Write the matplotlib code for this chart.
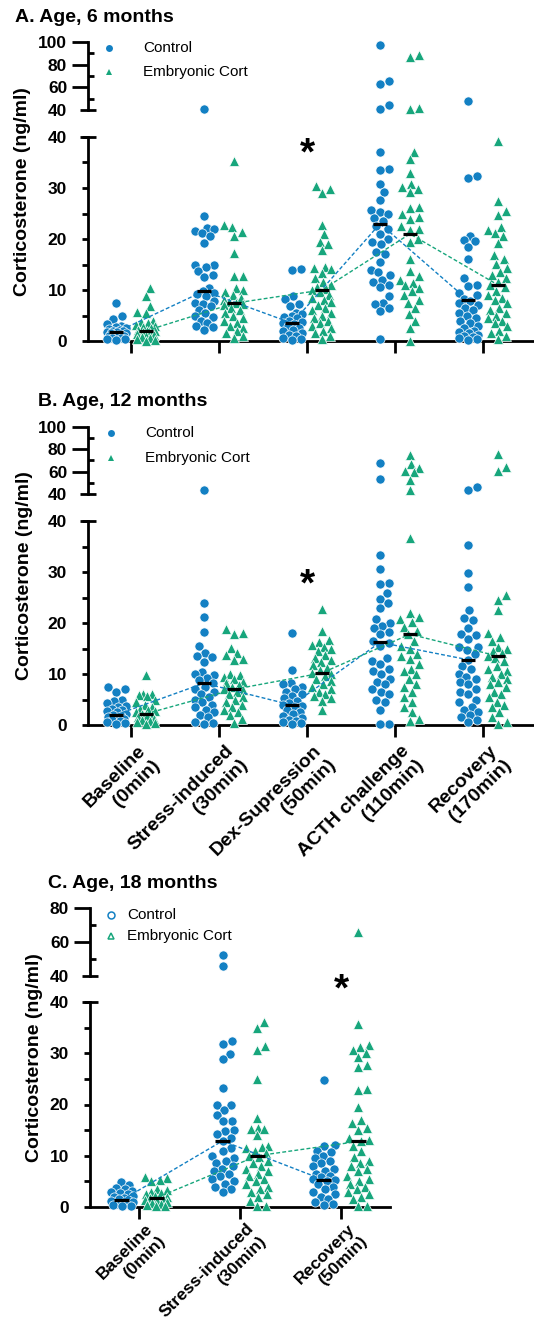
import numpy as np
import matplotlib
matplotlib.use('Agg')
import matplotlib.pyplot as plt
from matplotlib.lines import Line2D
from matplotlib.transforms import ScaledTranslation

plt.rcParams['font.family'] = ['Liberation Sans', 'DejaVu Sans']
plt.rcParams['font.weight'] = 'bold'

W, H, DPI = 534, 1332, 100
BLUE = '#1380C3'
GREEN = '#17A67C'

# ---------------- data ----------------
cats_5 = ['Baseline\n(0min)', 'Stress-induced\n(30min)', 'Dex-Supression\n(50min)',
          'ACTH challenge\n(110min)', 'Recovery\n(170min)']
cats_3 = ['Baseline\n(0min)', 'Stress-induced\n(30min)', 'Recovery\n(50min)']
series_names = ['Control', 'Embryonic Cort']

# Panel A: 6 months
ctrl_A = [
    [7.4, 4.9, 4.3, 3.3, 3.0, 2.8, 2.5, 2.3, 2.1, 2.0, 1.9, 1.8, 1.7, 1.6, 1.5, 1.4, 1.2, 1.0, 0.9, 0.8, 0.6, 0.5, 0.4, 0.3, 0.2],
    [41.0, 24.6, 22.2, 22.0, 21.6, 21.2, 20.5, 19.2, 15.0, 14.9, 14.5, 13.8, 12.9, 12.6, 10.3, 9.8, 9.5, 9.2, 8.8, 7.8, 7.5, 7.2, 6.8, 6.0, 5.5, 5.0, 4.8, 4.0, 3.5, 3.0, 2.8, 2.2],
    [14.2, 13.9, 8.8, 8.2, 7.2, 6.8, 5.5, 5.2, 5.0, 4.8, 4.5, 4.0, 3.8, 3.5, 3.4, 3.0, 2.6, 2.2, 2.0, 1.6, 1.2, 1.0, 0.6, 0.4, 0.2],
    [97.5, 65.3, 62.7, 44.1, 41.0, 37.0, 33.7, 33.6, 30.8, 29.2, 27.6, 25.7, 25.3, 25.0, 24.2, 23.5, 22.5, 22.0, 21.0, 20.0, 19.5, 19.0, 17.5, 17.0, 15.5, 14.0, 13.5, 13.0, 12.0, 11.5, 11.0, 10.5, 8.8, 7.5, 7.2, 6.5, 5.8, 0.3],
    [48.2, 32.3, 32.0, 20.6, 19.9, 19.6, 18.4, 16.0, 12.3, 11.0, 10.8, 9.5, 9.0, 8.2, 7.8, 7.5, 7.0, 6.5, 6.0, 5.5, 5.0, 4.5, 4.0, 3.5, 3.0, 2.5, 2.0, 1.8, 1.5, 1.2, 1.0, 0.8, 0.5, 0.3, 0.2],
]
cort_A = [
    [10.4, 8.9, 6.9, 5.6, 5.4, 4.0, 3.8, 3.5, 3.2, 3.0, 2.8, 2.5, 2.2, 2.0, 2.0, 1.8, 1.5, 1.3, 1.1, 1.0, 0.8, 0.5, 0.3, 0.2, 0.0],
    [35.3, 22.8, 22.3, 21.4, 20.6, 17.2, 12.8, 12.7, 10.3, 10.0, 9.6, 9.0, 8.5, 8.0, 7.6, 7.4, 7.2, 7.0, 6.5, 6.0, 5.5, 5.0, 4.5, 4.0, 3.5, 3.0, 2.5, 2.0, 1.5, 1.0, 0.6],
    [30.3, 29.8, 29.0, 22.7, 21.0, 19.5, 19.0, 17.8, 14.5, 14.3, 14.1, 13.4, 12.4, 11.5, 11.0, 10.5, 10.2, 10.0, 9.6, 9.0, 8.4, 8.0, 7.6, 7.0, 6.5, 6.0, 5.5, 5.0, 4.5, 4.0, 3.5, 3.0, 2.5, 2.0, 1.5, 1.0, 0.3],
    [88.3, 86.5, 42.0, 40.8, 37.1, 35.6, 32.9, 30.8, 30.2, 29.8, 29.2, 26.3, 26.0, 25.0, 24.4, 24.0, 22.5, 22.0, 21.8, 20.0, 19.5, 16.1, 13.8, 12.8, 12.0, 11.4, 11.0, 10.3, 9.8, 9.0, 8.0, 7.5, 6.4, 5.2, 4.0, 2.6, 0.0],
    [39.3, 27.4, 25.5, 24.7, 22.4, 21.7, 21.2, 20.6, 19.2, 16.8, 16.1, 15.1, 14.3, 13.5, 12.9, 12.4, 11.5, 11.0, 10.5, 9.8, 9.0, 8.5, 8.0, 7.5, 6.5, 6.0, 5.5, 5.0, 4.5, 4.0, 3.5, 3.0, 2.0, 1.5, 1.0, 0.3],
]
med_ctrl_A = [1.7, 9.8, 3.5, 23.0, 8.0]
med_cort_A = [2.0, 7.4, 10.0, 21.0, 11.0]

# Panel B: 12 months
ctrl_B = [
    [7.4, 7.0, 6.5, 5.0, 4.8, 4.4, 3.8, 3.5, 3.2, 3.0, 2.8, 2.5, 2.2, 2.0, 1.8, 1.6, 1.4, 1.2, 1.0, 0.8, 0.6, 0.4, 0.2],
    [43.5, 24.0, 21.2, 18.3, 15.5, 14.2, 13.5, 13.3, 12.4, 10.3, 10.0, 9.8, 9.3, 8.8, 8.2, 7.5, 7.0, 6.5, 6.0, 5.5, 5.0, 4.5, 4.0, 3.5, 3.0, 2.5, 2.0, 1.5, 0.5, 0.3, 0.2],
    [18.0, 10.8, 8.2, 8.0, 7.4, 7.0, 6.5, 6.0, 5.6, 5.2, 4.8, 4.4, 4.0, 3.8, 3.5, 3.0, 2.6, 2.2, 1.8, 1.4, 1.0, 0.8, 0.5, 0.3, 0.1],
    [67.5, 53.5, 33.3, 30.5, 27.9, 27.7, 25.8, 24.8, 23.9, 22.9, 20.8, 20.0, 19.5, 19.0, 18.2, 17.8, 16.5, 16.1, 15.5, 13.1, 12.5, 12.0, 11.0, 10.5, 10.0, 9.0, 8.5, 8.0, 7.0, 6.5, 6.0, 5.0, 4.5, 3.0, 0.2, 0.1],
    [46.5, 43.6, 35.2, 29.9, 27.0, 22.5, 21.0, 20.5, 19.0, 17.8, 17.7, 16.8, 15.3, 15.2, 14.8, 14.0, 12.8, 11.5, 11.0, 10.0, 9.5, 9.0, 8.5, 8.0, 7.0, 6.5, 6.0, 5.0, 4.5, 3.5, 3.0, 2.5, 2.0, 1.5, 1.0, 0.5],
]
cort_B = [
    [9.9, 6.1, 6.0, 5.9, 5.7, 5.0, 4.5, 4.0, 3.6, 3.2, 3.0, 2.8, 2.5, 2.2, 2.0, 1.8, 1.5, 1.2, 1.0, 0.8, 0.5, 0.3, 0.1],
    [18.8, 18.0, 17.8, 15.1, 14.2, 13.8, 13.0, 12.8, 10.0, 9.9, 9.5, 9.0, 8.5, 8.2, 7.8, 7.5, 7.0, 6.8, 6.5, 6.0, 5.5, 5.0, 4.5, 4.0, 3.5, 3.0, 2.5, 2.0, 1.2, 0.4],
    [22.7, 18.5, 16.7, 16.2, 15.6, 15.2, 15.0, 14.5, 13.8, 13.2, 12.8, 12.4, 11.8, 11.2, 10.8, 10.2, 10.0, 9.6, 9.0, 8.6, 8.0, 7.5, 7.0, 6.5, 6.0, 5.6, 5.2, 4.8, 2.9],
    [75.0, 66.5, 63.0, 61.0, 59.5, 52.5, 43.5, 36.6, 21.9, 21.2, 20.7, 20.2, 19.3, 18.5, 17.8, 16.5, 15.5, 15.0, 14.0, 13.5, 13.0, 12.0, 11.0, 10.5, 10.0, 9.0, 8.0, 7.5, 6.5, 5.5, 4.5, 3.5, 2.5, 1.2, 0.8],
    [75.8, 63.9, 60.9, 25.4, 24.5, 22.5, 18.0, 17.3, 16.5, 15.2, 15.0, 14.5, 14.2, 13.5, 13.2, 12.5, 11.5, 11.0, 10.5, 10.0, 9.5, 9.0, 8.5, 8.0, 7.5, 6.5, 6.0, 5.5, 4.5, 4.0, 3.5, 2.5, 1.5, 0.5, 0.2],
]
med_ctrl_B = [2.0, 8.2, 3.9, 16.2, 12.8]
med_cort_B = [2.2, 7.0, 10.2, 17.8, 13.5]

# Panel C: 18 months
ctrl_C = [
    [4.9, 4.2, 3.8, 3.5, 3.2, 3.0, 2.8, 2.5, 2.2, 2.0, 1.8, 1.5, 1.3, 1.2, 1.0, 0.8, 0.6, 0.5, 0.3, 0.2, 0.1],
    [52.4, 45.7, 32.3, 31.9, 29.8, 28.9, 23.3, 20.0, 19.9, 18.9, 18.0, 16.8, 16.7, 15.0, 14.8, 14.2, 13.5, 12.9, 11.5, 11.0, 10.0, 9.5, 9.0, 8.5, 8.0, 7.5, 7.0, 6.5, 6.0, 5.5, 5.0, 4.5, 4.0, 3.5, 3.0],
    [24.8, 12.1, 12.0, 11.0, 10.8, 10.0, 9.5, 9.0, 8.5, 8.0, 7.5, 7.0, 6.5, 6.0, 5.8, 5.5, 5.3, 5.0, 4.5, 4.0, 3.5, 3.0, 2.5, 2.0, 1.5, 1.0, 0.5, 0.3],
]
cort_C = [
    [5.9, 5.6, 5.3, 5.0, 3.6, 3.4, 3.0, 2.8, 2.5, 2.2, 2.0, 1.8, 1.6, 1.4, 1.2, 1.0, 0.8, 0.6, 0.4, 0.2, 0.1],
    [36.1, 34.9, 31.5, 30.6, 25.0, 17.3, 15.5, 15.3, 15.2, 14.0, 12.0, 11.8, 11.5, 11.0, 10.5, 10.0, 9.8, 9.0, 8.5, 8.0, 7.5, 7.0, 6.5, 6.0, 5.5, 5.0, 4.5, 4.0, 3.5, 3.0, 2.5, 2.0, 1.2, 0.2, 0.1],
    [65.7, 35.7, 31.7, 31.3, 30.6, 30.1, 29.2, 27.8, 27.3, 23.1, 22.8, 19.6, 16.9, 16.3, 15.5, 15.0, 13.5, 13.0, 12.8, 12.0, 11.0, 9.8, 9.0, 8.5, 8.0, 7.5, 7.0, 6.0, 5.5, 5.0, 4.5, 4.0, 3.5, 3.0, 2.5, 2.0, 1.5, 0.2, 0.1],
]
med_ctrl_C = [1.3, 12.9, 5.3]
med_cort_C = [1.8, 10.0, 12.8]

# ---------------- helpers ----------------
fig = plt.figure(figsize=(W / DPI, H / DPI), dpi=DPI)


def px_axes(l, t, r, b):
    return fig.add_axes([l / W, 1 - b / H, (r - l) / W, (b - t) / H])


def fy(y):
    return 1 - y / H


def swarm(ys, diam, maxw):
    order = np.argsort(ys)
    steps = np.arange(0.5, maxw + 0.01, 0.5)
    cands = [0.0]
    for s in steps:
        cands += [s, -s]
    placed = []
    offs = np.zeros(len(ys))
    for i in order:
        y = ys[i]
        best, best_d, chosen = 0.0, -1.0, None
        for c in cands:
            if not placed:
                chosen = c
                break
            arr = np.array(placed)
            d = np.min(np.hypot(arr[:, 0] - c, arr[:, 1] - y))
            if d >= diam:
                chosen = c
                break
            if d > best_d:
                best_d, best = d, c
        if chosen is None:
            chosen = best
        placed.append((chosen, y))
        offs[i] = chosen
    return offs


def draw_group(ax_lo, ax_hi, xc, values, color, marker, ms, split, maxw):
    vals = np.asarray(values, float)
    hi = vals > split
    disp = np.zeros((len(vals), 2))
    if (~hi).any():
        disp[~hi] = ax_lo.transData.transform(np.column_stack([np.full((~hi).sum(), xc), vals[~hi]]))
    if hi.any():
        disp[hi] = ax_hi.transData.transform(np.column_stack([np.full(hi.sum(), xc), vals[hi]]))
    offs = swarm(disp[:, 1], 8.8, maxw)
    ppu = ax_lo.transData.transform([[1, 0]])[0, 0] - ax_lo.transData.transform([[0, 0]])[0, 0]
    xs = xc + offs / ppu
    for ax, m in ((ax_lo, ~hi), (ax_hi, hi)):
        if m.any():
            ax.plot(xs[m], vals[m], ls='none', marker=marker, ms=ms, mfc=color, mec='white',
                    mew=0.5, clip_on=False, zorder=3)


def style_axes(ax_lo, ax_hi, upper_max, xlim, n, labels, xl_size, xl_pad):
    lw = 2.0
    for ax in (ax_lo, ax_hi):
        ax.set_xlim(*xlim)
        ax.patch.set_alpha(0)
        for s in ('top', 'right'):
            ax.spines[s].set_visible(False)
        ax.spines['left'].set_linewidth(lw)
    ax_hi.spines['bottom'].set_visible(False)
    ax_lo.spines['bottom'].set_linewidth(lw)
    ax_hi.set_xticks([])

    ax_lo.set_ylim(0, 40)
    ax_lo.set_yticks([0, 10, 20, 30, 40])
    ax_lo.set_yticks([5, 15, 25, 35], minor=True)
    ax_lo.tick_params(axis='y', which='major', direction='out', length=4.5, width=lw, pad=10.5, labelsize=12.5)
    ax_lo.tick_params(axis='y', which='minor', direction='out', length=4.5, width=lw)
    ax_lo.set_xticks(range(n))
    ax_lo.tick_params(axis='x', which='major', direction='out', length=8.5, width=lw, pad=xl_pad,
                      labelsize=xl_size)
    if labels is None:
        ax_lo.set_xticklabels([])
    else:
        ax_lo.set_xticklabels(labels, rotation=45, ha='right', rotation_mode='anchor')
        for lab in ax_lo.get_xticklabels():
            lab.set_transform(lab.get_transform() + ScaledTranslation(0.06, 0, fig.dpi_scale_trans))

    ax_hi.set_ylim(40, upper_max)
    ax_hi.set_yticks(list(range(40, upper_max + 1, 20)))
    ax_hi.set_yticks(list(range(50, upper_max, 20)), minor=True)
    ax_hi.tick_params(axis='y', which='major', direction='out', length=11.5, width=lw, pad=3.5, labelsize=12.5)
    ax_hi.tick_params(axis='y', which='minor', direction='in', length=4.3, width=lw)
    ax_hi.yaxis.get_major_ticks()[0].tick1line.set_visible(False)
    # end caps of the broken axis segments
    for ax, yv in ((ax_lo, 40), (ax_hi, 40)):
        ax.plot([0], [yv], marker='_', ms=11, mew=lw, color='black',
                transform=ax.get_yaxis_transform(), clip_on=False, zorder=4)


def legend(x_mk, x_txt, y1, y2, hollow):
    for y, color, mk, label in ((y1, BLUE, 'o', series_names[0]), (y2, GREEN, '^', series_names[1])):
        if hollow:
            fig.add_artist(Line2D([x_mk / W], [fy(y)], transform=fig.transFigure, marker=mk, ms=5,
                                  mfc='none', mec=color, mew=1.1, ls='none'))
        else:
            fig.add_artist(Line2D([x_mk / W], [fy(y)], transform=fig.transFigure, marker=mk, ms=5,
                                  mfc=color, mec=color, mew=0, ls='none'))
        fig.text(x_txt / W, fy(y), label, fontsize=11, fontweight='normal', va='center', ha='left')


def panel(geom, ctrl, cort, med_c, med_k, upper_max, xlim, labels, title, title_xy,
          ylab_x, leg, star_val, star_cat, off, maxw, xl_size=14, xl_pad=4):
    l, r, ut, ub, lt, lb = geom
    ax_hi = px_axes(l, ut, r, ub)
    ax_lo = px_axes(l, lt, r, lb)
    n = len(ctrl)
    style_axes(ax_lo, ax_hi, upper_max, xlim, n, labels, xl_size, xl_pad)
    for i in range(n):
        draw_group(ax_lo, ax_hi, i - off, ctrl[i], BLUE, 'o', 6.6, 40, maxw)
        draw_group(ax_lo, ax_hi, i + off, cort[i], GREEN, '^', 6.8, 40, maxw)
    xs = np.arange(n)
    ax_lo.plot(xs - off, med_c, ls=(0, (2.8, 1.6)), lw=1.0, color=BLUE, zorder=4, clip_on=False)
    ax_lo.plot(xs + off, med_k, ls=(0, (2.8, 1.6)), lw=1.0, color=GREEN, zorder=4, clip_on=False)
    ax_lo.hlines(med_c, xs - off - 0.075, xs - off + 0.075, color='black', lw=2.3, zorder=5)
    ax_lo.hlines(med_k, xs + off - 0.075, xs + off + 0.075, color='black', lw=2.3, zorder=5)
    ax_lo.annotate('*', xy=(star_cat, star_val), xytext=(0, -15.5), textcoords='offset points',
                   ha='center', va='baseline', fontsize=28, fontweight='bold', annotation_clip=False)
    fig.text(title_xy[0] / W, fy(title_xy[1]), title, fontsize=14, fontweight='bold', ha='left', va='center')
    fig.text(ylab_x / W, fy((ut + lb) / 2), 'Corticosterone (ng/ml)', rotation=90, fontsize=14,
             fontweight='bold', ha='center', va='center')
    legend(*leg)


# Panel A
panel((88, 534, 42, 110, 137, 341), ctrl_A, cort_A, med_ctrl_A, med_cort_A, 100,
      (-0.489, 4.58), None, 'A. Age, 6 months', (15, 17), 23,
      (109, 143, 48, 72, False), 38.8, 2, 0.17, 9.5)
# Panel B
panel((88, 534, 427, 494, 521, 725), ctrl_B, cort_B, med_ctrl_B, med_cort_B, 100,
      (-0.489, 4.58), cats_5, 'B. Age, 12 months', (38, 401), 25,
      (111, 145, 433, 458, False), 29.6, 2, 0.17, 9.5)
# Panel C
panel((90, 390, 908, 976, 1002, 1207), ctrl_C, cort_C, med_ctrl_C, med_cort_C, 80,
      (-0.485, 2.485), cats_3, 'C. Age, 18 months', (48, 883), 35,
      (111, 127, 915, 936, True), 44.5, 2, 0.173, 11.0, xl_size=12.5, xl_pad=1.5)

fig.savefig('out.png', dpi=DPI)
